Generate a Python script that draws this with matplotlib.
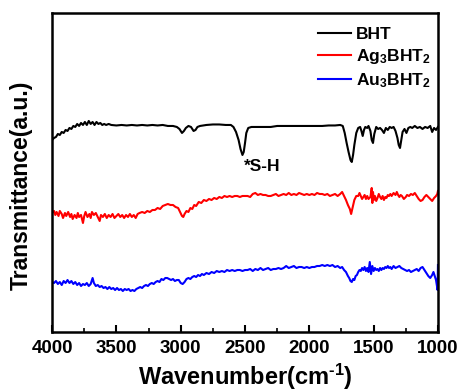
import matplotlib
matplotlib.use("Agg")
import matplotlib.pyplot as plt
from matplotlib.ticker import MultipleLocator

plt.rcParams["font.family"] = ["Liberation Sans", "DejaVu Sans"]
plt.rcParams["font.weight"] = "bold"
plt.rcParams["mathtext.fontset"] = "custom"
plt.rcParams["mathtext.rm"] = "Liberation Sans:bold"
plt.rcParams["mathtext.bf"] = "Liberation Sans:bold"
plt.rcParams["mathtext.default"] = "bf"

# BHT spectrum (wavenumber, offset transmittance a.u.)
bht_wn = [4000, 3985, 3970, 3955, 3940, 3925, 3910, 3895, 3880, 3865, 3850, 3835, 3820, 3805,
          3790, 3775, 3760, 3745, 3730, 3715, 3700, 3685, 3670, 3655, 3640, 3625, 3610, 3595,
          3580, 3560, 3540, 3500, 3460, 3420, 3380, 3340, 3300, 3260, 3220, 3180, 3140, 3100,
          3060, 3030, 3010, 2990, 2975, 2960, 2940, 2920, 2900, 2885, 2870, 2850, 2800, 2750,
          2700, 2650, 2610, 2590, 2570, 2550, 2535, 2520, 2510, 2500, 2490, 2475, 2450, 2400,
          2350, 2300, 2250, 2200, 2150, 2100, 2050, 2000, 1950, 1900, 1850, 1800, 1760, 1740,
          1725, 1710, 1695, 1680, 1670, 1660, 1650, 1635, 1620, 1605, 1595, 1585, 1575, 1565,
          1550, 1540, 1525, 1515, 1505, 1495, 1480, 1465, 1450, 1435, 1420, 1405, 1390, 1375,
          1360, 1345, 1330, 1315, 1305, 1295, 1285, 1275, 1260, 1245, 1230, 1215, 1200, 1180,
          1160, 1140, 1120, 1100, 1080, 1060, 1045, 1030, 1015, 1000]
bht_t = [192, 194, 195, 198, 197, 200, 199, 202, 201, 204, 203, 206, 205, 208,
         206, 209, 207, 210, 207, 211, 208, 210, 207, 210, 208, 209, 207, 208,
         207, 208, 207, 206.5, 207, 206.5, 207, 206.5, 207, 206.5, 207, 206.5, 207, 206,
         206, 205, 203, 199, 201, 204, 206, 205, 201, 202, 205, 206, 207, 207.5,
         207.5, 207, 207, 205, 200, 192, 183, 177, 180, 189, 199, 204, 205, 205,
         205, 205, 206, 206, 206, 206, 206, 206, 206, 206, 206.5, 206.5, 207, 206,
         199, 189, 180, 172, 170, 177, 187, 199, 204, 205, 201, 196, 202, 205,
         204, 206, 201, 192, 189, 198, 205, 203, 204, 202, 199, 204, 202, 205,
         204, 205, 201, 194, 187, 184, 192, 200, 203, 199, 204, 205, 204, 206,
         204, 205, 203, 205, 204, 206, 200, 204, 202, 205]

# Ag3BHT2 spectrum
ag_wn = [4000, 3985, 3975, 3965, 3950, 3940, 3925, 3915, 3900, 3890, 3875, 3860, 3850, 3840,
         3825, 3810, 3800, 3790, 3775, 3760, 3750, 3740, 3725, 3710, 3700, 3690, 3675, 3660,
         3645, 3630, 3620, 3605, 3590, 3575, 3560, 3545, 3530, 3515, 3500, 3485, 3470, 3455,
         3440, 3425, 3410, 3395, 3380, 3365, 3350, 3335, 3320, 3300, 3280, 3260, 3240, 3220,
         3200, 3180, 3160, 3140, 3120, 3100, 3080, 3060, 3040, 3020, 3005, 2990, 2980, 2970,
         2955, 2940, 2925, 2910, 2895, 2880, 2860, 2840, 2820, 2800, 2780, 2760, 2740, 2720,
         2700, 2680, 2660, 2640, 2620, 2600, 2580, 2560, 2540, 2520, 2500, 2480, 2460, 2440,
         2420, 2400, 2380, 2360, 2340, 2320, 2300, 2280, 2260, 2240, 2220, 2200, 2180, 2160,
         2140, 2120, 2100, 2080, 2060, 2040, 2020, 2000, 1980, 1960, 1940, 1920, 1900, 1880,
         1860, 1840, 1820, 1800, 1780, 1760, 1745, 1730, 1715, 1700, 1685, 1675, 1668, 1660,
         1650, 1635, 1620, 1610, 1600, 1590, 1580, 1570, 1560, 1550, 1540, 1525, 1515, 1510,
         1505, 1498, 1490, 1480, 1470, 1460, 1450, 1440, 1430, 1420, 1410, 1400, 1390, 1380,
         1370, 1360, 1345, 1330, 1320, 1310, 1300, 1290, 1280, 1265, 1250, 1240, 1225, 1210,
         1195, 1180, 1165, 1150, 1135, 1120, 1105, 1090, 1075, 1060, 1045, 1030, 1015, 1005,
         1000]
ag_t = [119, 121, 117, 120, 116, 121, 118, 114, 119, 116, 120, 115, 118, 113,
        117, 114, 119, 115, 117, 109, 116, 120, 115, 118, 114, 120, 117, 119,
        115, 111, 117, 115, 118, 114, 117, 115, 118, 114, 116, 118, 115, 117,
        114, 117, 115, 118, 115, 117, 114, 118, 119, 120, 119, 121, 120, 122,
        122, 124, 123, 126, 127, 128, 127, 127, 125, 124, 120, 116, 115, 118,
        121, 120, 124, 123, 127, 126, 130, 129, 132, 131, 133, 132, 134, 133,
        135, 134, 136, 135, 136, 135, 136, 136, 135, 136, 136, 136, 135, 138,
        139, 137, 138, 137, 137, 136, 136, 137, 138, 136, 137, 138, 137, 139,
        137, 138, 137, 139, 138, 137, 138, 137, 138, 137, 139, 138, 138, 137,
        138, 136, 137, 138, 136, 138, 140, 136, 132, 127, 123, 118, 122, 127,
        132, 136, 136, 139, 136, 133, 135, 137, 133, 136, 133, 135, 144, 129,
        140, 132, 136, 131, 134, 138, 135, 133, 136, 132, 135, 134, 137, 136,
        138, 136, 139, 137, 140, 137, 135, 137, 136, 133, 135, 137, 136, 138,
        137, 139, 136, 133, 131, 132, 135, 137, 135, 133, 131, 134, 136, 138,
        141]

# Au3BHT2 spectrum
au_wn = [4000, 3985, 3970, 3955, 3940, 3925, 3910, 3895, 3880, 3865, 3850, 3835, 3820, 3805,
         3790, 3775, 3760, 3745, 3730, 3715, 3700, 3685, 3675, 3660, 3645, 3630, 3615, 3600,
         3585, 3570, 3555, 3540, 3525, 3510, 3495, 3480, 3465, 3450, 3435, 3420, 3405, 3390,
         3375, 3360, 3345, 3330, 3315, 3300, 3285, 3270, 3255, 3240, 3225, 3210, 3195, 3180,
         3165, 3150, 3135, 3120, 3105, 3090, 3075, 3060, 3045, 3030, 3015, 3000, 2985, 2970,
         2955, 2940, 2925, 2910, 2895, 2880, 2865, 2850, 2835, 2820, 2800, 2780, 2760, 2740,
         2720, 2700, 2680, 2660, 2640, 2620, 2600, 2580, 2560, 2540, 2520, 2500, 2480, 2460,
         2440, 2420, 2400, 2380, 2360, 2340, 2320, 2300, 2280, 2260, 2240, 2220, 2200, 2180,
         2160, 2140, 2120, 2100, 2080, 2060, 2040, 2020, 2000, 1980, 1960, 1940, 1920, 1900,
         1880, 1860, 1840, 1820, 1800, 1780, 1760, 1745, 1730, 1715, 1700, 1690, 1680, 1670,
         1660, 1650, 1640, 1630, 1620, 1610, 1600, 1590, 1580, 1570, 1560, 1550, 1540, 1530,
         1520, 1510, 1500, 1490, 1480, 1470, 1460, 1450, 1440, 1430, 1420, 1410, 1400, 1390,
         1380, 1370, 1360, 1345, 1330, 1315, 1300, 1285, 1270, 1255, 1240, 1225, 1210, 1195,
         1180, 1165, 1150, 1135, 1120, 1105, 1090, 1075, 1060, 1045, 1035, 1025, 1015, 1008,
         1003, 1000]
au_t = [50, 49, 51, 48, 50, 47, 51, 49, 52, 49, 51, 48, 50, 47,
        49, 46, 48, 47, 49, 46, 48, 54, 49, 46, 47, 45, 46, 44,
        45, 43, 45, 43, 44, 42, 44, 42, 43, 41, 43, 42, 43, 41,
        42, 41, 43, 44, 45, 44, 46, 47, 46, 48, 49, 48, 50, 51,
        50, 53, 52, 54, 54, 53, 52, 53, 51, 52, 52, 49, 48, 50,
        53, 54, 53, 55, 56, 55, 57, 56, 58, 57, 59, 58, 60, 59,
        61, 60, 61, 60, 62, 61, 62, 61, 62, 62, 61, 62, 62, 63,
        61, 63, 62, 64, 62, 63, 64, 62, 63, 63, 64, 63, 64, 66,
        64, 65, 66, 64, 65, 65, 64, 65, 64, 65, 65, 66, 66, 67,
        66, 67, 66, 67, 65, 66, 64, 65, 62, 60, 56, 54, 51, 50,
        53, 52, 56, 57, 60, 62, 61, 64, 62, 65, 61, 64, 60, 70,
        58, 66, 61, 64, 62, 63, 61, 64, 62, 64, 63, 65, 64, 66,
        64, 65, 63, 66, 64, 65, 66, 64, 63, 62, 61, 62, 60, 61,
        62, 63, 61, 64, 65, 62, 59, 56, 54, 57, 60, 56, 52, 46,
        42, 67]

series_labels = ["BHT", "Ag$_3$BHT$_2$", "Au$_3$BHT$_2$"]
series_colors = ["black", "red", "blue"]
x_ticks = [4000, 3500, 3000, 2500, 2000, 1500, 1000]

fig = plt.figure(figsize=(4.61, 3.92), dpi=100)
ax = fig.add_axes([0.113, 0.153, 0.837, 0.814])

for wn, t, label, color in zip([bht_wn, ag_wn, au_wn], [bht_t, ag_t, au_t],
                               series_labels, series_colors):
    ax.plot(wn, t, color=color, lw=1.5, label=label)

ax.text(2370, 165, "*S-H", ha="center", va="center", fontsize=12.5, fontweight="bold")

ax.set_xlim(4000, 1000)
ax.set_ylim(0, 319)
ax.set_xticks(x_ticks)
ax.xaxis.set_minor_locator(MultipleLocator(250))
ax.set_yticks([])
ax.tick_params(axis="x", which="major", direction="in", length=5, width=1.5, labelsize=13.5, pad=6)
ax.tick_params(axis="x", which="minor", direction="in", length=3, width=1.2)
for lbl in ax.get_xticklabels():
    lbl.set_fontweight("bold")
for sp in ax.spines.values():
    sp.set_linewidth(1.8)

ax.set_xlabel("Wavenumber(cm$^{\\text{-1}}$)", fontsize=17, fontweight="bold", labelpad=3)
ax.set_ylabel("Transmittance(a.u.)", fontsize=16.5, fontweight="bold")
ax.yaxis.set_label_coords(-0.05, 0.46)

ax.legend(loc="upper right", bbox_to_anchor=(1.013, 0.995), frameon=False, fontsize=12.5,
          handlelength=1.9, handletextpad=0.3, labelspacing=0.3, borderaxespad=0.3)

fig.savefig("out.png", dpi=100)
